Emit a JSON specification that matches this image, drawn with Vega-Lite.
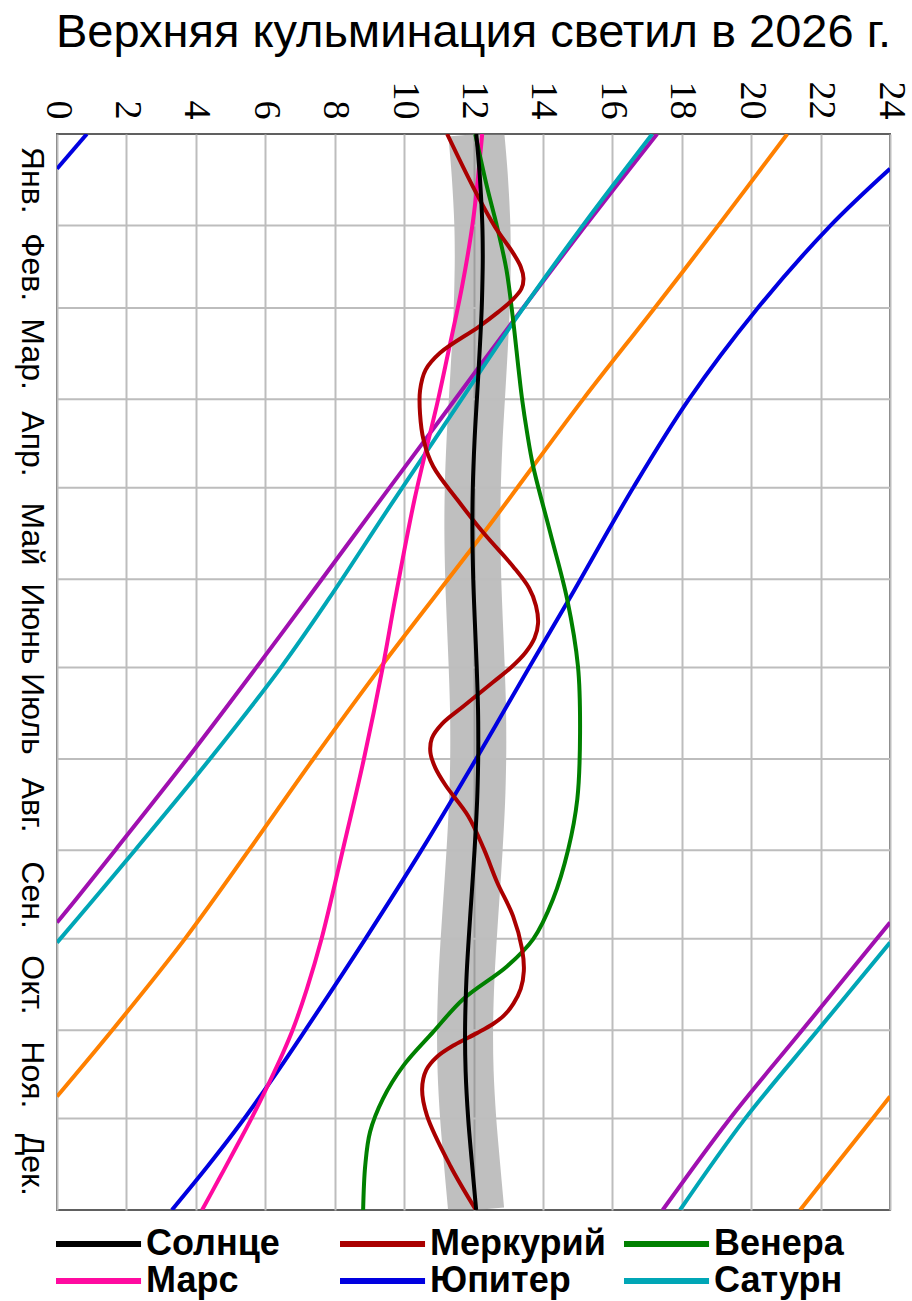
{
  "$schema": "https://vega.github.io/schema/vega-lite/v6.json",
  "autosize": {"type": "none"},
  "padding": {"left": 57, "top": 134, "right": 22, "bottom": 91},
  "width": 833,
  "height": 1076,
  "background": "white",
  "title": {"text": "Верхняя кульминация светил в 2026 г.", "font": "Liberation Sans", "fontSize": 47, "fontWeight": "normal", "color": "#000000", "anchor": "middle", "frame": "group", "offset": 24},
  "config": {
    "font": "Liberation Sans",
    "view": {"stroke": "#606060", "strokeWidth": 2}
  },
  "datasets": {
    "months": [{"d": 31}, {"d": 59}, {"d": 90}, {"d": 120}, {"d": 151}, {"d": 181}, {"d": 212}, {"d": 243}, {"d": 273}, {"d": 304}, {"d": 334}],
    "lines": [
      {"p": "Уран", "s": 1, "d": 0, "h": 21.04}, {"p": "Уран", "s": 1, "d": 31.5, "h": 19.02}, {"p": "Уран", "s": 1, "d": 59.6, "h": 17.18}, {"p": "Уран", "s": 1, "d": 90.1, "h": 15.15}, {"p": "Уран", "s": 1, "d": 135.2, "h": 12.3}, {"p": "Уран", "s": 1, "d": 180.6, "h": 9.34}, {"p": "Уран", "s": 1, "d": 212.1, "h": 7.38}, {"p": "Уран", "s": 1, "d": 242.6, "h": 5.55}, {"p": "Уран", "s": 1, "d": 273.1, "h": 3.68}, {"p": "Уран", "s": 1, "d": 303.6, "h": 1.62}, {"p": "Уран", "s": 1, "d": 326.5, "h": 0},
      {"p": "Уран", "s": 2, "d": 326.5, "h": 24}, {"p": "Уран", "s": 2, "d": 334.1, "h": 23.49}, {"p": "Уран", "s": 2, "d": 365, "h": 21.41},
      {"p": "Нептун", "s": 1, "d": 0, "h": 17.29}, {"p": "Нептун", "s": 1, "d": 31.5, "h": 15.2}, {"p": "Нептун", "s": 1, "d": 63, "h": 13.17}, {"p": "Нептун", "s": 1, "d": 95.9, "h": 11.1}, {"p": "Нептун", "s": 1, "d": 126.5, "h": 9.17}, {"p": "Нептун", "s": 1, "d": 157.9, "h": 7.2}, {"p": "Нептун", "s": 1, "d": 181, "h": 5.74}, {"p": "Нептун", "s": 1, "d": 212.1, "h": 3.74}, {"p": "Нептун", "s": 1, "d": 242.6, "h": 1.7}, {"p": "Нептун", "s": 1, "d": 259.6, "h": 0.55}, {"p": "Нептун", "s": 1, "d": 267.5, "h": 0},
      {"p": "Нептун", "s": 2, "d": 267.5, "h": 24}, {"p": "Нептун", "s": 2, "d": 304.3, "h": 21.45}, {"p": "Нептун", "s": 2, "d": 334.1, "h": 19.38}, {"p": "Нептун", "s": 2, "d": 365, "h": 17.45},
      {"p": "Сатурн", "s": 1, "d": 0, "h": 17.15}, {"p": "Сатурн", "s": 1, "d": 31.5, "h": 15.12}, {"p": "Сатурн", "s": 1, "d": 63, "h": 13.2}, {"p": "Сатурн", "s": 1, "d": 95.2, "h": 11.36}, {"p": "Сатурн", "s": 1, "d": 126.5, "h": 9.58}, {"p": "Сатурн", "s": 1, "d": 157.9, "h": 7.82}, {"p": "Сатурн", "s": 1, "d": 181, "h": 6.45}, {"p": "Сатурн", "s": 1, "d": 212.1, "h": 4.4}, {"p": "Сатурн", "s": 1, "d": 242.6, "h": 2.27}, {"p": "Сатурн", "s": 1, "d": 259.6, "h": 1.06}, {"p": "Сатурн", "s": 1, "d": 274.3, "h": 0},
      {"p": "Сатурн", "s": 2, "d": 274.3, "h": 24}, {"p": "Сатурн", "s": 2, "d": 304.3, "h": 21.9}, {"p": "Сатурн", "s": 2, "d": 334.1, "h": 19.82}, {"p": "Сатурн", "s": 2, "d": 365, "h": 17.95},
      {"p": "Юпитер", "s": 1, "d": 0, "h": 0.86}, {"p": "Юпитер", "s": 1, "d": 11.8, "h": 0},
      {"p": "Юпитер", "s": 2, "d": 11.8, "h": 24}, {"p": "Юпитер", "s": 2, "d": 31.5, "h": 22.25}, {"p": "Юпитер", "s": 2, "d": 59.6, "h": 20.15}, {"p": "Юпитер", "s": 2, "d": 90.1, "h": 18.2}, {"p": "Юпитер", "s": 2, "d": 120, "h": 16.6}, {"p": "Юпитер", "s": 2, "d": 157.9, "h": 14.75}, {"p": "Юпитер", "s": 2, "d": 180.6, "h": 13.62}, {"p": "Юпитер", "s": 2, "d": 212.1, "h": 12.07}, {"p": "Юпитер", "s": 2, "d": 242.6, "h": 10.52}, {"p": "Юпитер", "s": 2, "d": 273.1, "h": 8.88}, {"p": "Юпитер", "s": 2, "d": 306, "h": 7.04}, {"p": "Юпитер", "s": 2, "d": 320.6, "h": 6.2}, {"p": "Юпитер", "s": 2, "d": 335.5, "h": 5.3}, {"p": "Юпитер", "s": 2, "d": 350, "h": 4.35}, {"p": "Юпитер", "s": 2, "d": 365, "h": 3.31},
      {"p": "Марс", "s": 1, "d": 0, "h": 12.25}, {"p": "Марс", "s": 1, "d": 29.1, "h": 11.99}, {"p": "Марс", "s": 1, "d": 51.8, "h": 11.67}, {"p": "Марс", "s": 1, "d": 74.2, "h": 11.27}, {"p": "Марс", "s": 1, "d": 90.1, "h": 10.98}, {"p": "Марс", "s": 1, "d": 124, "h": 10.3}, {"p": "Марс", "s": 1, "d": 157.9, "h": 9.74}, {"p": "Марс", "s": 1, "d": 180.6, "h": 9.39}, {"p": "Марс", "s": 1, "d": 212.1, "h": 8.84}, {"p": "Марс", "s": 1, "d": 242.6, "h": 8.24}, {"p": "Марс", "s": 1, "d": 273.1, "h": 7.62}, {"p": "Марс", "s": 1, "d": 290, "h": 7.2}, {"p": "Марс", "s": 1, "d": 303.6, "h": 6.8}, {"p": "Марс", "s": 1, "d": 312, "h": 6.5}, {"p": "Марс", "s": 1, "d": 321.6, "h": 6.12}, {"p": "Марс", "s": 1, "d": 334, "h": 5.6}, {"p": "Марс", "s": 1, "d": 343.3, "h": 5.18}, {"p": "Марс", "s": 1, "d": 354, "h": 4.69}, {"p": "Марс", "s": 1, "d": 365, "h": 4.18},
      {"p": "Венера", "s": 1, "d": 0, "h": 12.05}, {"p": "Венера", "s": 1, "d": 18, "h": 12.39}, {"p": "Венера", "s": 1, "d": 31.5, "h": 12.68}, {"p": "Венера", "s": 1, "d": 46.1, "h": 12.95}, {"p": "Венера", "s": 1, "d": 63, "h": 13.14}, {"p": "Венера", "s": 1, "d": 80, "h": 13.3}, {"p": "Венера", "s": 1, "d": 90, "h": 13.4}, {"p": "Венера", "s": 1, "d": 101, "h": 13.54}, {"p": "Венера", "s": 1, "d": 112.8, "h": 13.72}, {"p": "Венера", "s": 1, "d": 135.2, "h": 14.21}, {"p": "Венера", "s": 1, "d": 157.9, "h": 14.7}, {"p": "Венера", "s": 1, "d": 180.6, "h": 15.01}, {"p": "Венера", "s": 1, "d": 203, "h": 15.07}, {"p": "Венера", "s": 1, "d": 225.7, "h": 14.99}, {"p": "Венера", "s": 1, "d": 242.6, "h": 14.73}, {"p": "Венера", "s": 1, "d": 259.6, "h": 14.29}, {"p": "Венера", "s": 1, "d": 273.1, "h": 13.72}, {"p": "Венера", "s": 1, "d": 282.3, "h": 12.97}, {"p": "Венера", "s": 1, "d": 293.5, "h": 11.7}, {"p": "Венера", "s": 1, "d": 304.6, "h": 10.84}, {"p": "Венера", "s": 1, "d": 316.2, "h": 9.97}, {"p": "Венера", "s": 1, "d": 327.3, "h": 9.39}, {"p": "Венера", "s": 1, "d": 338.5, "h": 9.02}, {"p": "Венера", "s": 1, "d": 350, "h": 8.88}, {"p": "Венера", "s": 1, "d": 365, "h": 8.82},
      {"p": "Меркурий", "s": 1, "d": 0, "h": 11.24}, {"p": "Меркурий", "s": 1, "d": 18, "h": 11.99}, {"p": "Меркурий", "s": 1, "d": 31.5, "h": 12.62}, {"p": "Меркурий", "s": 1, "d": 40, "h": 13.12}, {"p": "Меркурий", "s": 1, "d": 45, "h": 13.36}, {"p": "Меркурий", "s": 1, "d": 49, "h": 13.44}, {"p": "Меркурий", "s": 1, "d": 52.5, "h": 13.38}, {"p": "Меркурий", "s": 1, "d": 56.3, "h": 13.12}, {"p": "Меркурий", "s": 1, "d": 60.5, "h": 12.7}, {"p": "Меркурий", "s": 1, "d": 65.4, "h": 12.15}, {"p": "Меркурий", "s": 1, "d": 74.2, "h": 11.04}, {"p": "Меркурий", "s": 1, "d": 80, "h": 10.62}, {"p": "Меркурий", "s": 1, "d": 87, "h": 10.46}, {"p": "Меркурий", "s": 1, "d": 95, "h": 10.46}, {"p": "Меркурий", "s": 1, "d": 103.7, "h": 10.56}, {"p": "Меркурий", "s": 1, "d": 112.8, "h": 10.84}, {"p": "Меркурий", "s": 1, "d": 124, "h": 11.53}, {"p": "Меркурий", "s": 1, "d": 135.2, "h": 12.28}, {"p": "Меркурий", "s": 1, "d": 146.7, "h": 13.14}, {"p": "Меркурий", "s": 1, "d": 154, "h": 13.6}, {"p": "Меркурий", "s": 1, "d": 160, "h": 13.8}, {"p": "Меркурий", "s": 1, "d": 166, "h": 13.86}, {"p": "Меркурий", "s": 1, "d": 171, "h": 13.76}, {"p": "Меркурий", "s": 1, "d": 175.9, "h": 13.5}, {"p": "Меркурий", "s": 1, "d": 181, "h": 13.08}, {"p": "Меркурий", "s": 1, "d": 186, "h": 12.56}, {"p": "Меркурий", "s": 1, "d": 194.2, "h": 11.7}, {"p": "Меркурий", "s": 1, "d": 200, "h": 11.1}, {"p": "Меркурий", "s": 1, "d": 205, "h": 10.8}, {"p": "Меркурий", "s": 1, "d": 210, "h": 10.76}, {"p": "Меркурий", "s": 1, "d": 215, "h": 10.9}, {"p": "Меркурий", "s": 1, "d": 221, "h": 11.2}, {"p": "Меркурий", "s": 1, "d": 231.4, "h": 11.85}, {"p": "Меркурий", "s": 1, "d": 242.6, "h": 12.3}, {"p": "Меркурий", "s": 1, "d": 253.8, "h": 12.68}, {"p": "Меркурий", "s": 1, "d": 265.3, "h": 13.14}, {"p": "Меркурий", "s": 1, "d": 276.5, "h": 13.4}, {"p": "Меркурий", "s": 1, "d": 284, "h": 13.45}, {"p": "Меркурий", "s": 1, "d": 290, "h": 13.36}, {"p": "Меркурий", "s": 1, "d": 295, "h": 13.15}, {"p": "Меркурий", "s": 1, "d": 299, "h": 12.88}, {"p": "Меркурий", "s": 1, "d": 302, "h": 12.55}, {"p": "Меркурий", "s": 1, "d": 305, "h": 12.1}, {"p": "Меркурий", "s": 1, "d": 309, "h": 11.45}, {"p": "Меркурий", "s": 1, "d": 313, "h": 10.95}, {"p": "Меркурий", "s": 1, "d": 317.5, "h": 10.64}, {"p": "Меркурий", "s": 1, "d": 324, "h": 10.52}, {"p": "Меркурий", "s": 1, "d": 333, "h": 10.66}, {"p": "Меркурий", "s": 1, "d": 350, "h": 11.33}, {"p": "Меркурий", "s": 1, "d": 365, "h": 12.07},
      {"p": "Солнце", "s": 1, "d": 0, "h": 12.08}, {"p": "Солнце", "s": 1, "d": 14, "h": 12.18}, {"p": "Солнце", "s": 1, "d": 31, "h": 12.255}, {"p": "Солнце", "s": 1, "d": 41, "h": 12.267}, {"p": "Солнце", "s": 1, "d": 45, "h": 12.265}, {"p": "Солнце", "s": 1, "d": 59, "h": 12.237}, {"p": "Солнце", "s": 1, "d": 73, "h": 12.18}, {"p": "Солнце", "s": 1, "d": 90, "h": 12.097}, {"p": "Солнце", "s": 1, "d": 104, "h": 12.03}, {"p": "Солнце", "s": 1, "d": 120, "h": 11.98}, {"p": "Солнце", "s": 1, "d": 134, "h": 11.968}, {"p": "Солнце", "s": 1, "d": 151, "h": 11.993}, {"p": "Солнце", "s": 1, "d": 165, "h": 12.037}, {"p": "Солнце", "s": 1, "d": 181, "h": 12.093}, {"p": "Солнце", "s": 1, "d": 195, "h": 12.13}, {"p": "Солнце", "s": 1, "d": 206, "h": 12.138}, {"p": "Солнце", "s": 1, "d": 212, "h": 12.135}, {"p": "Солнце", "s": 1, "d": 226, "h": 12.105}, {"p": "Солнце", "s": 1, "d": 243, "h": 12.03}, {"p": "Солнце", "s": 1, "d": 257, "h": 11.953}, {"p": "Солнце", "s": 1, "d": 273, "h": 11.862}, {"p": "Солнце", "s": 1, "d": 287, "h": 11.795}, {"p": "Солнце", "s": 1, "d": 304, "h": 11.757}, {"p": "Солнце", "s": 1, "d": 318, "h": 11.773}, {"p": "Солнце", "s": 1, "d": 334, "h": 11.847}, {"p": "Солнце", "s": 1, "d": 348, "h": 11.947}, {"p": "Солнце", "s": 1, "d": 365, "h": 12.077}
    ]
  },
  "layer": [
    {
      "data": {"name": "lines"},
      "transform": [{"filter": "datum.p == 'Солнце'"}],
      "mark": {"type": "line", "stroke": "#808080", "opacity": 0.5, "strokeWidth": 56, "interpolate": "catmull-rom", "clip": true},
      "encoding": {
        "x": {"field": "h", "type": "quantitative", "scale": {"domain": [0, 24], "nice": false, "zero": false},
          "axis": {"orient": "top", "title": null, "values": [0, 2, 4, 6, 8, 10, 12, 14, 16, 18, 20, 22, 24], "labelAngle": 90, "labelAlign": "right", "labelBaseline": "middle", "labelFont": "Liberation Sans Narrow", "labelFontSize": 38, "labelColor": "#000000", "labelPadding": 15, "labelOverlap": false, "labelFlush": false, "ticks": false, "domain": false, "grid": true, "gridColor": "#bdbdbd", "gridWidth": 2}},
        "y": {"field": "d", "type": "quantitative", "scale": {"domain": [0, 365], "reverse": true, "nice": false, "zero": false},
          "axis": {"title": null, "values": [15.5, 45, 74.5, 105, 135.5, 166, 196.5, 227.5, 258, 288.5, 319, 349.5], "labelExpr": "datum.value < 31 ? 'Янв.' : datum.value < 59 ? 'Фев.' : datum.value < 90 ? 'Мар.' : datum.value < 120 ? 'Апр.' : datum.value < 151 ? 'Май' : datum.value < 181 ? 'Июнь' : datum.value < 212 ? 'Июль' : datum.value < 243 ? 'Авг.' : datum.value < 273 ? 'Сен.' : datum.value < 304 ? 'Окт.' : datum.value < 334 ? 'Ноя.' : 'Дек.'", "labelAngle": 90, "labelAlign": "center", "labelBaseline": "top", "labelFontSize": 32, "labelColor": "#000000", "labelPadding": 11, "labelOverlap": false, "labelFlush": false, "ticks": false, "domain": false, "grid": false}},
        "order": {"field": "d", "type": "quantitative"}
      }
    },
    {
      "data": {"name": "months"},
      "mark": {"type": "rule", "stroke": "#bdbdbd", "strokeWidth": 2},
      "encoding": {
        "y": {"field": "d", "type": "quantitative", "scale": {"domain": [0, 365], "reverse": true, "nice": false, "zero": false}}
      }
    },
    {
      "data": {"name": "lines"},
      "mark": {"type": "line", "strokeWidth": 4, "interpolate": "catmull-rom", "clip": true},
      "encoding": {
        "x": {"field": "h", "type": "quantitative", "scale": {"domain": [0, 24], "nice": false, "zero": false}},
        "y": {"field": "d", "type": "quantitative", "scale": {"domain": [0, 365], "reverse": true, "nice": false, "zero": false}},
        "color": {"field": "p", "type": "nominal",
          "scale": {"domain": ["Солнце", "Меркурий", "Венера", "Марс", "Юпитер", "Сатурн", "Уран", "Нептун"], "range": ["#000000", "#aa0000", "#008000", "#ff0aa0", "#0000e0", "#00a6b6", "#ff8000", "#a010b0"]},
          "legend": {"values": ["Солнце", "Меркурий", "Венера", "Марс", "Юпитер", "Сатурн"], "title": null, "orient": "none", "legendX": -19, "legendY": 1092, "direction": "horizontal", "columns": 3, "gridAlign": "all", "columnPadding": 0, "rowPadding": 1, "symbolType": "M0,0H8", "symbolSize": 452, "symbolStrokeWidth": 6, "labelFontSize": 36, "labelFontWeight": "bold", "labelColor": "#000000", "labelOffset": 72, "labelLimit": 400}},
        "detail": {"field": "s", "type": "nominal"},
        "order": {"field": "d", "type": "quantitative"}
      }
    }
  ]
}
